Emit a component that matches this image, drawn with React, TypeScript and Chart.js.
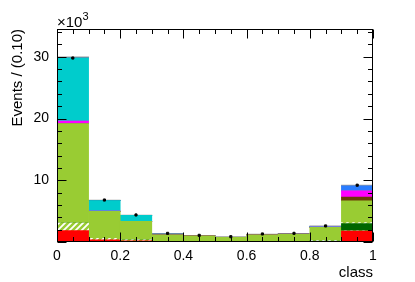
import React, { useEffect, useRef } from 'react';
import { Chart, registerables } from 'chart.js';
Chart.register(...registerables);

// bin centres of the "class" histogram (bin width 0.1)
const binCenters = [0.05, 0.15, 0.25, 0.35, 0.45, 0.55, 0.65, 0.75, 0.85, 0.95];
// stacked components, in units of 10^3 events (bottom to top)
const redVals = [1.85, 0.35, 0.2, 0.03, 0.02, 0.02, 0.03, 0.04, 0.12, 1.75];
const hatchVals = [1.2, 0.25, 0.15, 0.03, 0.02, 0.02, 0.03, 0.03, 0.1, 0.05];
const darkGreenVals = [0, 0, 0, 0, 0, 0, 0, 0, 0, 1.2];
const hatch2Vals = [0, 0, 0, 0, 0, 0, 0, 0, 0, 0.13];
const greenVals = [16.15, 4.37, 3.0, 1.09, 0.95, 0.72, 1.1, 1.2, 2.16, 3.52];
const brownVals = [0, 0, 0, 0, 0, 0, 0, 0, 0, 0.64];
const magentaVals = [0.4, 0.05, 0, 0, 0, 0, 0, 0, 0, 0.98];
const purpleVals = [0, 0, 0, 0, 0, 0, 0, 0, 0.12, 0];
const cyanVals = [10.2, 1.68, 0.95, 0.05, 0, 0, 0, 0, 0, 0];
const tealVals = [0, 0, 0, 0.1, 0.04, 0, 0, 0, 0, 0];
const blueVals = [0, 0, 0, 0, 0, 0, 0, 0, 0, 0.83];
const grayVals = [0.2, 0.1, 0.08, 0.1, 0.05, 0.1, 0.14, 0.13, 0.1, 0.1];
// observed data points
const dataVals = [29.8, 6.8, 4.38, 1.4, 1.08, 0.86, 1.3, 1.4, 2.6, 9.2];

const xTickLabels = [0, 0.2, 0.4, 0.6, 0.8, 1];
const yTickLabels = [10, 20, 30];

const FONT = '"Liberation Sans", Arial, Helvetica, sans-serif';

function makeHatch(bg: string, line: string) {
  const c = document.createElement('canvas');
  c.width = 6;
  c.height = 6;
  const g = c.getContext('2d')!;
  g.fillStyle = bg;
  g.fillRect(0, 0, 6, 6);
  g.strokeStyle = line;
  g.lineWidth = 1.8;
  g.beginPath();
  g.moveTo(0, 6); g.lineTo(6, 0);
  g.moveTo(-1, 1); g.lineTo(1, -1);
  g.moveTo(5, 7); g.lineTo(7, 5);
  g.stroke();
  return g.createPattern(c, 'repeat')!;
}

const rootFrame = {
  id: 'rootFrame',
  afterDraw(chart: any) {
    const { ctx, chartArea: a, scales } = chart;
    const x = scales.x, y = scales.y;
    const L = Math.round(a.left) + 0.5, R = Math.round(a.right) - 0.5;
    const T = Math.round(a.top) + 0.5, B = Math.round(a.bottom) - 0.5;
    ctx.save();
    ctx.strokeStyle = '#000';
    ctx.lineWidth = 1;
    ctx.strokeRect(L, T, R - L, B - T);
    ctx.beginPath();
    for (let i = 0; i <= 20; i++) {
      const v = i * 0.05;
      const px = Math.round(x.getPixelForValue(v)) + 0.5;
      const len = i % 4 === 0 ? 9 : 4.5;
      ctx.moveTo(px, B); ctx.lineTo(px, B - len);
      ctx.moveTo(px, T); ctx.lineTo(px, T + len);
    }
    for (let v = 0; v <= y.max; v += 2) {
      const py = Math.round(y.getPixelForValue(v)) + 0.5;
      const len = v % 10 === 0 ? 9 : 4.5;
      ctx.moveTo(L, py); ctx.lineTo(L + len, py);
      ctx.moveTo(R, py); ctx.lineTo(R - len, py);
    }
    ctx.stroke();

    ctx.fillStyle = '#000';
    // y title
    ctx.save();
    ctx.font = `15px ${FONT}`;
    ctx.translate(22, 29);
    ctx.rotate(-Math.PI / 2);
    ctx.textAlign = 'right';
    ctx.textBaseline = 'alphabetic';
    ctx.fillText('Events / (0.10)', 0, 0);
    ctx.restore();
    // x title
    ctx.font = `15px ${FONT}`;
    ctx.textAlign = 'right';
    ctx.textBaseline = 'alphabetic';
    ctx.fillText('class', Math.round(a.right), 277);
    // exponent
    ctx.textAlign = 'left';
    ctx.font = `15px ${FONT}`;
    ctx.fillText('\u00d710', Math.round(a.left), 27);
    const w = ctx.measureText('\u00d710').width;
    ctx.font = `11px ${FONT}`;
    ctx.fillText('3', Math.round(a.left) + w, 20);
    ctx.restore();
  },
};

export default function App() {
  const ref = useRef<HTMLCanvasElement | null>(null);
  useEffect(() => {
    const canvas = ref.current!;
    const hatch = makeHatch('#99cc33', '#ffffff');
    const mk = (label: string, vals: number[], color: any) => ({
      type: 'bar' as const,
      label,
      data: binCenters.map((c, i) => ({ x: c, y: vals[i] })),
      backgroundColor: color,
      borderWidth: 0,
      barPercentage: 1,
      categoryPercentage: 1,
      stack: 'mc',
      order: 2,
    });
    const chart = new Chart(canvas, {
      type: 'bar',
      data: {
        datasets: [
          mk('red', redVals, '#ff0000'),
          mk('hatch', hatchVals, hatch),
          mk('darkgreen', darkGreenVals, '#006600'),
          mk('hatch2', hatch2Vals, hatch),
          mk('green', greenVals, '#99cc33'),
          mk('brown', brownVals, '#6b3a06'),
          mk('magenta', magentaVals, '#ff00ff'),
          mk('purple', purpleVals, '#9966dd'),
          mk('cyan', cyanVals, '#00cccc'),
          mk('teal', tealVals, '#2f6f8f'),
          mk('blue', blueVals, '#2a7cff'),
          mk('gray', grayVals, '#999999'),
          {
            type: 'scatter' as const,
            label: 'data',
            data: binCenters.map((c, i) => ({ x: c, y: dataVals[i] })),
            backgroundColor: '#000',
            borderColor: '#000',
            pointRadius: 1.5,
            pointStyle: 'rect',
            stack: 'data',
            order: 1,
          } as any,
        ],
      },
      options: {
        responsive: false,
        animation: false,
        devicePixelRatio: 1,
        layout: { padding: { left: 0, top: 29, right: 42, bottom: 0 } },
        plugins: { legend: { display: false }, tooltip: { enabled: false } },
        scales: {
          x: {
            type: 'linear',
            min: 0,
            max: 1,
            offset: false,
            stacked: true,
            grid: { display: false, drawTicks: false, offset: false },
            border: { display: false },
            afterBuildTicks: (s: any) => {
              s.ticks = xTickLabels.map((v) => ({ value: v }));
            },
            afterFit: (s: any) => { s.height = 40; },
            ticks: {
              padding: 6,
              color: '#000',
              font: { family: FONT, size: 14 },
              maxRotation: 0,
              autoSkip: false,
              callback: (v: any) => String(Math.round(Number(v) * 10) / 10),
            },
          },
          y: {
            type: 'linear',
            min: 0,
            max: 34.5,
            stacked: true,
            grid: { display: false, drawTicks: false },
            border: { display: false },
            afterBuildTicks: (s: any) => {
              s.ticks = yTickLabels.map((v) => ({ value: v }));
            },
            afterFit: (s: any) => { s.width = 57; },
            ticks: {
              padding: 8,
              color: '#000',
              font: { family: FONT, size: 14 },
              callback: (v: any) => String(v),
            },
          },
        },
      },
      plugins: [rootFrame],
    } as any);
    return () => chart.destroy();
  }, []);
  return (
    <div style={{ position: 'absolute', left: 0, top: 0, width: 415, height: 282, background: '#fff' }}>
      <canvas ref={ref} width={415} height={282} style={{ display: 'block' }} />
    </div>
  );
}
